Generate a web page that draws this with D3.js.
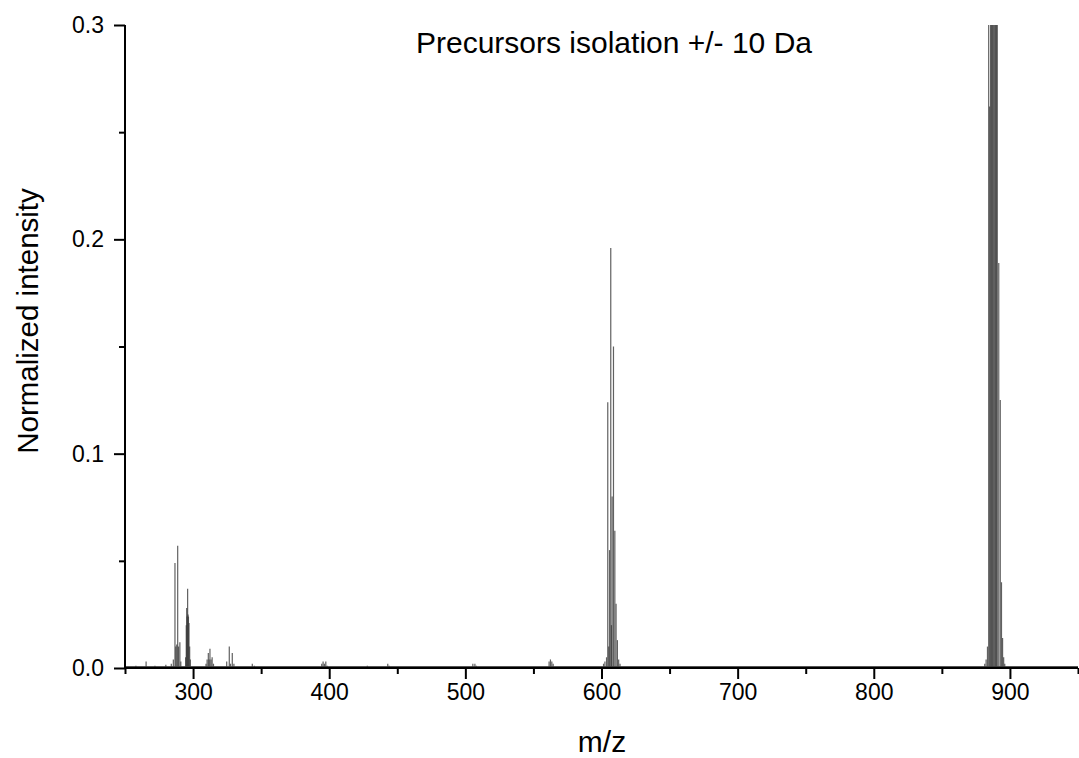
<!DOCTYPE html>
<html>
<head>
<meta charset="utf-8">
<script src="https://cdn.jsdelivr.net/npm/d3@7"></script>
<style>
  html, body { margin: 0; padding: 0; background: #fff; }
  svg { display: block; font-family: Arial, "Liberation Sans", sans-serif; }
</style>
</head>
<body>
<svg id="chart" width="1079" height="758"></svg>
<script>
// ---- data ----
const chartTitle = "Precursors isolation +/- 10 Da";
const xLabel = "m/z";
const yLabel = "Normalized intensity";
const xDomain = [250, 950];
const yDomain = [0, 0.3];
const xMajorTicks = [300, 400, 500, 600, 700, 800, 900];
const xMinorTicks = [250, 350, 450, 550, 650, 750, 850, 950];
const yMajorTicks = [0.0, 0.1, 0.2, 0.3];
const yMinorTicks = [0.05, 0.15, 0.25];

// peak positions (m/z) and normalized intensities
const peakMz = [
  258, 265.5, 272, 280, 284, 285.5, 286.7, 287.3, 288.0, 288.7, 289.3, 290.3, 291.0,
  294.5, 295.0, 295.3, 295.6, 296.0, 296.3, 296.6, 297.0, 297.5, 298.0,
  309.5, 310.3, 311.2, 311.8, 312.4, 313.2, 314.0, 315.0,
  324.7, 326.6, 327.5, 328.8, 330.0, 343.5, 345.0,
  394.5, 395.5, 396.5, 397.5, 398.5, 428.0, 443.0, 444.0,
  505.5, 507.0, 508.0, 561.5, 562.5, 563.5, 564.5,
  601.5, 602.5, 603.7, 604.6, 605.3, 605.9, 606.8, 607.3, 607.8, 608.8, 609.8, 610.7, 611.7, 612.6, 613.6,
  881.5, 882.5, 883.5, 884.4, 885.1, 885.8, 886.5, 887.1, 887.7, 888.3, 888.9, 889.5, 890.1, 890.7,
  891.8, 892.9, 893.8, 894.6, 895.4, 896.2
];
const peakIntensity = [
  0.001, 0.003, 0.001, 0.0015, 0.002, 0.004, 0.049, 0.010, 0.011, 0.057, 0.010, 0.012, 0.003,
  0.005, 0.020, 0.028, 0.024, 0.037, 0.025, 0.024, 0.021, 0.010, 0.004,
  0.002, 0.004, 0.007, 0.004, 0.009, 0.004, 0.005, 0.002,
  0.003, 0.010, 0.002, 0.007, 0.002, 0.002, 0.001,
  0.002, 0.003, 0.002, 0.003, 0.001, 0.001, 0.002, 0.001,
  0.002, 0.002, 0.001, 0.003, 0.004, 0.003, 0.002,
  0.002, 0.003, 0.005, 0.124, 0.010, 0.055, 0.196, 0.020, 0.080, 0.150, 0.064, 0.030, 0.013, 0.004, 0.002,
  0.002, 0.004, 0.010, 0.45, 0.262, 0.90, 1.00, 0.95, 0.80, 0.75, 0.60, 0.50, 0.45, 0.38,
  0.189, 0.125, 0.040, 0.014, 0.005, 0.002
];

// ---- layout ----
const svg = d3.select("#chart");
const x = d3.scaleLinear().domain(xDomain).range([125, 1078]);
const y = d3.scaleLinear().domain(yDomain).range([668, 25]);

svg.append("clipPath").attr("id", "plotClip")
  .append("rect")
  .attr("x", x.range()[0]).attr("y", y.range()[1])
  .attr("width", x.range()[1] - x.range()[0])
  .attr("height", y.range()[0] - y.range()[1]);

const peaks = peakMz.map((m, i) => ({ mz: m, v: peakIntensity[i] }));

// baseline trace
svg.append("line")
  .attr("x1", x(xDomain[0])).attr("x2", x(xDomain[1]))
  .attr("y1", y(0) - 1.5).attr("y2", y(0) - 1.5)
  .attr("stroke", "#555").attr("stroke-width", 1);

svg.append("g").attr("clip-path", "url(#plotClip)")
  .selectAll("line.peak").data(peaks).join("line")
  .attr("class", "peak")
  .attr("x1", d => x(d.mz)).attr("x2", d => x(d.mz))
  .attr("y1", y(0)).attr("y2", d => y(d.v))
  .attr("stroke", "#3a3a3a").attr("stroke-opacity", 0.8)
  .attr("stroke-width", 1.2);

// ---- axes ----
const xAxisG = svg.append("g").attr("transform", `translate(0,${y(0)})`);
xAxisG.call(d3.axisBottom(x).tickValues(xMajorTicks).tickSize(11).tickPadding(5).tickFormat(d3.format("d")));
xAxisG.append("g").call(d3.axisBottom(x).tickValues(xMinorTicks).tickSize(6).tickFormat(""));
xAxisG.selectAll(".domain").remove();
xAxisG.append("line").attr("x1", x(xDomain[0]) - 1).attr("x2", x(xDomain[1]))
  .attr("stroke", "#000").attr("stroke-width", 2);
xAxisG.selectAll(".tick line").attr("stroke", "#000").attr("stroke-width", 2);
xAxisG.selectAll(".tick text").attr("font-size", 23).attr("fill", "#000")
  .attr("font-family", "Arial, 'Liberation Sans', sans-serif");

const yAxisG = svg.append("g").attr("transform", `translate(${x(xDomain[0])},0)`);
yAxisG.call(d3.axisLeft(y).tickValues(yMajorTicks).tickSize(11).tickPadding(10).tickFormat(d3.format(".1f")));
yAxisG.append("g").call(d3.axisLeft(y).tickValues(yMinorTicks).tickSize(6).tickFormat(""));
yAxisG.selectAll(".domain").remove();
yAxisG.append("line").attr("y1", y(yDomain[1])).attr("y2", y(0) + 1)
  .attr("stroke", "#000").attr("stroke-width", 2);
yAxisG.selectAll(".tick line").attr("stroke", "#000").attr("stroke-width", 2);
yAxisG.selectAll(".tick text").attr("font-size", 23).attr("fill", "#000")
  .attr("font-family", "Arial, 'Liberation Sans', sans-serif");

// ---- titles ----
svg.append("text").attr("x", 614).attr("y", 53).attr("text-anchor", "middle")
  .attr("font-size", 30).attr("fill", "#000").text(chartTitle);
svg.append("text").attr("x", 602).attr("y", 752).attr("text-anchor", "middle")
  .attr("font-size", 30).attr("fill", "#000").text(xLabel);
svg.append("text").attr("transform", "translate(38,321) rotate(-90)").attr("text-anchor", "middle")
  .attr("font-size", 29.5).attr("fill", "#000").text(yLabel);
</script>
</body>
</html>
